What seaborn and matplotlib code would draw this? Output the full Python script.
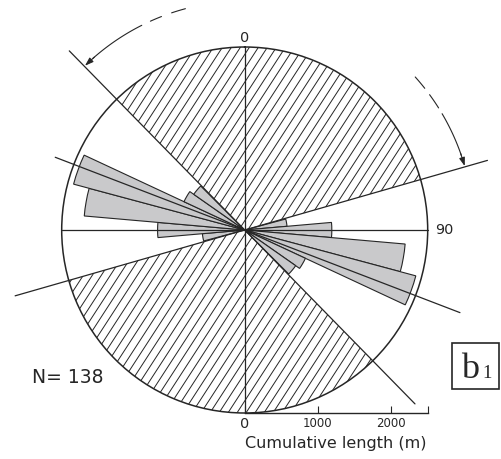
import numpy as np
import matplotlib
matplotlib.use("Agg")
import matplotlib.pyplot as plt
import seaborn as sns
from matplotlib.collections import LineCollection
from matplotlib.patches import Rectangle
from matplotlib.path import Path

# rose diagram, 10 degree bins (strikes 0-180, mirrored to 180-360)
bin_centers = [80, 90, 100, 110, 120, 130]
cum_length = [580, 1190, 2200, 2420, 915, 850]
r_max = 2500
scale_ticks = [0, 1000, 2000]

# hatched (empty) sectors, start/end azimuth in degrees, clockwise from N
sectors = [(315.6, 74.0), (135.6, 254.0)]
mean_dir = 291
n_count = 138

sns.set_style("white")
plt.rcParams['font.family'] = ['DejaVu Sans']
ink = '#262626'

fig = plt.figure(figsize=(5.01, 4.59), dpi=100)
rect = [61.7 / 501, 46 / 459, 366 / 501, 366 / 459]
ax = fig.add_axes(rect, projection='polar')
ax.set_theta_zero_location('N')
ax.set_theta_direction(-1)
ax.set_ylim(0, r_max)
ax.set_xticks([])
ax.set_yticks([])
ax.grid(False)
ax.spines['polar'].set_color(ink)
ax.spines['polar'].set_linewidth(1.1)

# hatching at ~57 deg, clipped to each sector
ang = np.deg2rad(57)
step = 9 / 366
offs = np.arange(-0.8, 1.05, step)
segs = [[(c, 0), (c + 1 / np.tan(ang), 1)] for c in offs]
for start, end in sectors:
    width = (end - start) % 360
    t = np.deg2rad(np.linspace(start, start + width, 200))
    verts = [(t[0], 0)] + [(ti, r_max) for ti in t] + [(t[0], 0)]
    clip = Path(verts)
    lc = LineCollection(segs, transform=ax.transAxes, colors=ink, linewidths=0.7)
    lc.set_clip_path(clip, ax.transData)
    ax.add_collection(lc, autolim=False)

# bars
theta = bin_centers + [b + 180 for b in bin_centers]
lengths = cum_length + cum_length
ax.bar(np.deg2rad(theta), lengths, width=np.deg2rad(10), color='#c9c9cb',
       edgecolor=ink, linewidth=0.8, zorder=3)


def radial(az, r_end):
    t = np.deg2rad(az)
    ax.plot([t, t], [0, r_end], color=ink, lw=0.9, clip_on=False, zorder=4)


for az in [0, 90, 180, 270]:
    radial(az, r_max)
radial(sectors[0][0], 1.37 * r_max)
radial(sectors[1][0], 1.33 * r_max)
radial(sectors[0][1], 1.38 * r_max)
radial(sectors[1][1], 1.305 * r_max)
radial(mean_dir, 1.109 * r_max)
radial(mean_dir - 180, 1.26 * r_max)

# rotation arrows
r_arc = 1.252 * r_max


def arc(a0, a1):
    t = np.deg2rad(np.linspace(a0, a1, 60))
    ax.plot(t, np.full_like(t, r_arc), color=ink, lw=0.8, clip_on=False)


def head(tip, back):
    ax.annotate('', xy=(np.deg2rad(tip), r_arc), xytext=(np.deg2rad(back), r_arc),
                arrowprops=dict(arrowstyle='-|>,head_length=0.5,head_width=0.17',
                                color=ink, lw=0.8, shrinkA=0, shrinkB=0),
                annotation_clip=False)


arc(345, 341.4)
arc(338.7, 335.7)
arc(333.3, 318.5)
head(315.8, 319)
arc(48.1, 51.8)
arc(53.8, 57.8)
arc(59.5, 71.0)
head(73.8, 70.5)

ax.text(0, 1.048 * r_max, '0', ha='center', va='center', fontsize=10.4, color=ink)
ax.text(np.deg2rad(90), 1.089 * r_max, '90', ha='center', va='center',
        fontsize=10.4, color=ink)

# scale bar
ax2 = fig.add_axes(rect)
ax2.set_xlim(-r_max, r_max)
ax2.set_ylim(0, 1)
ax2.patch.set_alpha(0)
for s in ['top', 'left', 'right']:
    ax2.spines[s].set_visible(False)
ax2.spines['bottom'].set_bounds(0, r_max)
ax2.spines['bottom'].set_color(ink)
ax2.spines['bottom'].set_linewidth(1.0)
ax2.set_xticks(scale_ticks + [r_max])
ax2.set_xticklabels([str(t) for t in scale_ticks] + [''])
ax2.set_yticks([])
ax2.tick_params(axis='x', direction='in', length=5, width=0.8, color=ink,
                labelsize=8.5, pad=3, labelcolor=ink, bottom=True)
ax2.get_xticklabels()[0].set_fontsize(10.4)
ax2.set_xlabel('Cumulative length (m)', fontsize=11.5, color=ink)
ax2.xaxis.set_label_coords(0.75, -0.062)

fig.text(31.7 / 501, 0.1765, f'N= {n_count}', ha='left', va='center',
         fontsize=13.5, color=ink)

fig.add_artist(Rectangle((452.3 / 501, (459 - 389.3) / 459), 47 / 501, 46 / 459,
                         transform=fig.transFigure, fill=False, edgecolor=ink, lw=1.2))
fig.text(461.5 / 501, (459 - 378) / 459, 'b', family='Liberation Serif',
         fontsize=26, ha='left', va='baseline', color=ink)
fig.text(482.5 / 501, (459 - 378) / 459, '1', family='Liberation Serif',
         fontsize=13.5, ha='left', va='baseline', color=ink)

fig.savefig('out.png', dpi=100)
